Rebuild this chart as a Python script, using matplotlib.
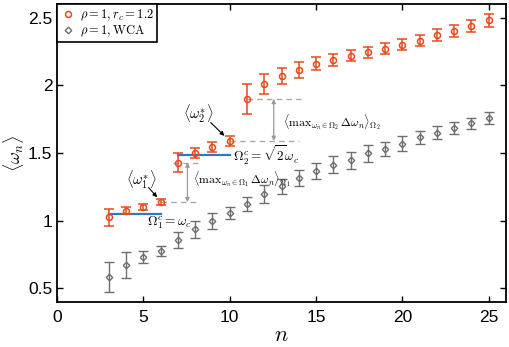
import matplotlib
matplotlib.use('Agg')
import matplotlib.pyplot as plt
from matplotlib.lines import Line2D
import numpy as np

plt.rcParams['mathtext.fontset'] = 'cm'
plt.rcParams['font.family'] = ['Liberation Sans', 'DejaVu Sans']

# mode index
n = np.arange(3, 26)

# rho = 1, r_c = 1.2
w_rc = [1.024, 1.075, 1.10, 1.137, 1.43, 1.50, 1.545, 1.59,
        1.90, 2.01, 2.07, 2.115, 2.16, 2.19, 2.22, 2.245, 2.27,
        2.30, 2.33, 2.37, 2.40, 2.44, 2.48]
e_rc = [0.065, 0.025, 0.022, 0.022, 0.07, 0.04, 0.035, 0.035,
        0.11, 0.075, 0.06, 0.06, 0.05, 0.045, 0.04, 0.04, 0.04,
        0.04, 0.04, 0.045, 0.045, 0.045, 0.05]

# rho = 1, WCA
w_wca = [0.583, 0.674, 0.733, 0.777, 0.858, 0.936, 1.0, 1.056,
         1.125, 1.196, 1.255, 1.318, 1.365, 1.415, 1.445, 1.497, 1.53,
         1.57, 1.615, 1.65, 1.685, 1.72, 1.757]
e_wca = [0.11, 0.095, 0.043, 0.035, 0.06, 0.062, 0.06, 0.045,
         0.05, 0.065, 0.055, 0.06, 0.06, 0.06, 0.06, 0.06, 0.055,
         0.055, 0.05, 0.05, 0.045, 0.04, 0.045]

# plateau levels
omega_c = 1.05
omega2 = np.sqrt(2) * omega_c

orange = '#e64a1c'
grey = '#6e6e6e'
blue = '#2a7bc4'

fig = plt.figure(figsize=(5.1, 3.47), dpi=100)
ax = fig.add_axes([0.112, 0.130, 0.880, 0.858])

ax.errorbar(n, w_rc, yerr=e_rc, fmt='o', color=orange, mfc='none', mec=orange,
            ms=4.3, mew=1.1, elinewidth=1.1, capsize=3.5, capthick=1.1, zorder=4)
ax.errorbar(n, w_wca, yerr=e_wca, fmt='D', color=grey, mfc='none', mec=grey,
            ms=3.3, mew=1.0, elinewidth=1.0, capsize=3.5, capthick=1.0, zorder=3)

# blue plateaus
ax.plot([3, 6], [omega_c, omega_c], color=blue, lw=1.6, zorder=2)
ax.plot([7, 10], [omega2, omega2], color=blue, lw=1.6, zorder=2)

# dashed helper lines
dash = dict(color='#aaaaaa', lw=1.0, ls=(0, (4, 3)), zorder=1)
ax.plot([6, 8.3], [w_rc[3], w_rc[3]], **dash)
ax.plot([6.7, 8.2], [w_rc[4], w_rc[4]], **dash)
ax.plot([10, 14.0], [w_rc[7], w_rc[7]], **dash)
ax.plot([11, 14.1], [w_rc[8], w_rc[8]], **dash)

# double arrows
arr = dict(arrowstyle='<|-|>', color='#999999', lw=0.9, mutation_scale=6,
           shrinkA=0, shrinkB=0)
ax.annotate('', xy=(7.55, w_rc[3]), xytext=(7.55, w_rc[4]), arrowprops=arr)
ax.annotate('', xy=(12.55, w_rc[7]), xytext=(12.55, w_rc[8]), arrowprops=arr)

# labels
pointer = dict(arrowstyle='-|>', color='k', lw=0.8, mutation_scale=6,
               shrinkA=0, shrinkB=1)
ax.text(4.0, 1.30, r'$\langle \omega_1^{\ast} \rangle$', fontsize=10.5, va='center')
ax.annotate('', xy=(5.85, 1.165), xytext=(5.3, 1.245), arrowprops=pointer)
ax.text(7.3, 1.79, r'$\langle \omega_2^{\ast} \rangle$', fontsize=10.5, va='center')
ax.annotate('', xy=(9.75, 1.62), xytext=(8.9, 1.725), arrowprops=pointer)

ax.text(5.2, 0.985, r'$\Omega_1^c = \omega_c$', fontsize=9.5, va='center')
ax.text(10.2, 1.48, r'$\Omega_2^c = \sqrt{2}\omega_c$', fontsize=9.5, va='center')
ax.text(7.85, 1.305,
        r'$\langle \mathrm{max}_{\omega_n \in \Omega_1}\, \Delta\omega_n \rangle_{\Omega_1}$',
        fontsize=8.5, va='center')
ax.text(13.1, 1.73,
        r'$\langle \mathrm{max}_{\omega_n \in \Omega_2}\, \Delta\omega_n \rangle_{\Omega_2}$',
        fontsize=8.5, va='center')

ax.set_xlim(0, 26)
ax.set_ylim(0.4, 2.6)
ax.set_xticks([0, 5, 10, 15, 20, 25])
ax.set_yticks([0.5, 1, 1.5, 2, 2.5])
ax.set_yticklabels(['0.5', '1', '1.5', '2', '2.5'])
ax.tick_params(direction='in', top=True, right=True, length=4, width=1.0,
               labelsize=12.5)
ax.tick_params(axis='x', pad=6)
for s in ax.spines.values():
    s.set_linewidth(1.3)

ax.set_xlabel(r'$n$', fontsize=16, labelpad=0)
ax.set_ylabel(r'$\langle \omega_n \rangle$', fontsize=13)
ax.yaxis.set_label_coords(-0.07, 0.5)

handles = [Line2D([], [], ls='none', marker='o', ms=4.3, mfc='none', mec=orange, mew=1.1),
           Line2D([], [], ls='none', marker='D', ms=3.3, mfc='none', mec=grey, mew=1.0)]
labels = [r'$\rho = 1, r_c = 1.2$', r'$\rho = 1, \mathrm{WCA}$']
leg = ax.legend(handles, labels, loc='upper left', fontsize=9, fancybox=False,
                edgecolor='k', framealpha=1, borderpad=0.25, handletextpad=0.3,
                borderaxespad=0, handlelength=1.3, labelspacing=0.1)
leg.get_frame().set_linewidth(1.2)

fig.savefig('out.png', dpi=100)
